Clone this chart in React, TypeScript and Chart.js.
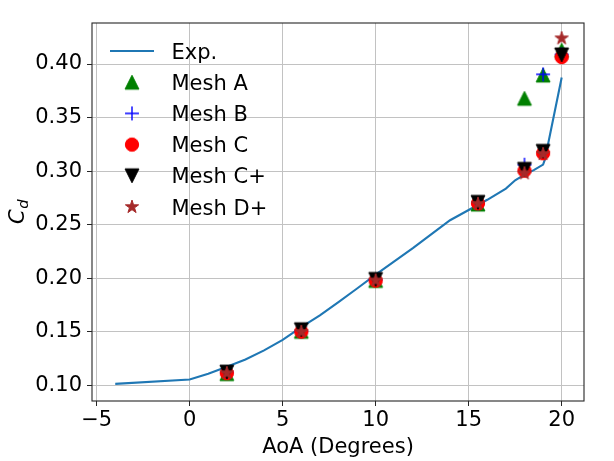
import React, { useEffect, useRef } from "react";
import { Chart, registerables } from "chart.js";

Chart.register(...registerables);

// ---- data ----
const expX = [-4, 0, 1, 2, 3, 4, 5, 6, 7, 8, 9, 10, 11, 12, 13, 14, 15, 16, 17, 17.5, 18, 18.5, 19, 19.1, 20];
const expY = [0.1015, 0.1055, 0.111, 0.1175, 0.1243, 0.1328, 0.1425, 0.1545, 0.1655, 0.1778, 0.1905, 0.2035, 0.2158, 0.2282, 0.2412, 0.2542, 0.2638, 0.2733, 0.2838, 0.2915, 0.2968, 0.301, 0.3062, 0.311, 0.3875];

const meshX = [2, 6, 10, 15.5, 18, 19, 20];
const meshA = [0.111, 0.1505, 0.198, 0.2693, 0.368, 0.3897, 0.4128];
const meshB = [0.112, 0.1505, 0.1985, 0.27, 0.306, 0.3904, 0.409];
const meshC = [0.1115, 0.1502, 0.1978, 0.27, 0.3004, 0.3167, 0.4065];
const meshCp = [0.1125, 0.152, 0.199, 0.2709, 0.3017, 0.3185, 0.4085];
const meshDp = [0.1115, 0.15, 0.198, 0.2695, 0.298, 0.316, 0.424];

const xTicks = [-5, 0, 5, 10, 15, 20];
const yTicks = [0.1, 0.15, 0.2, 0.25, 0.3, 0.35, 0.4];

const xLabel = "AoA (Degrees)";
const yLabelMain = "C";
const yLabelSub = "d";
const legendLabels = ["Exp.", "Mesh A", "Mesh B", "Mesh C", "Mesh C+", "Mesh D+"];

const FONT = "'DejaVu Sans', sans-serif";

function makeMarker(kind: string, color: string): HTMLCanvasElement {
  const S = 24;
  const c = 12;
  const r = 6.95;
  const cv = document.createElement("canvas");
  cv.width = S;
  cv.height = S;
  const g = cv.getContext("2d")!;
  g.fillStyle = color;
  g.strokeStyle = color;
  g.lineWidth = 1;
  g.lineJoin = "miter";
  g.beginPath();
  if (kind === "triUp") {
    g.moveTo(c, c - r);
    g.lineTo(c + r, c + r);
    g.lineTo(c - r, c + r);
    g.closePath();
    g.fill();
    g.stroke();
  } else if (kind === "triDown") {
    g.moveTo(c, c + r);
    g.lineTo(c + r, c - r);
    g.lineTo(c - r, c - r);
    g.closePath();
    g.fill();
    g.stroke();
  } else if (kind === "circle") {
    g.arc(c, c, r - 0.3, 0, Math.PI * 2);
    g.fill();
    g.stroke();
  } else if (kind === "plus") {
    g.lineWidth = 1.4;
    g.moveTo(c - r, c);
    g.lineTo(c + r, c);
    g.moveTo(c, c - r);
    g.lineTo(c, c + r);
    g.stroke();
  } else if (kind === "star") {
    for (let k = 0; k < 10; k++) {
      const a = -Math.PI / 2 + (k * Math.PI) / 5;
      const rr = k % 2 === 0 ? r : r * 0.381966;
      const px = c + rr * Math.cos(a);
      const py = c + rr * Math.sin(a);
      if (k === 0) g.moveTo(px, py);
      else g.lineTo(px, py);
    }
    g.closePath();
    g.fill();
    g.stroke();
  }
  return cv;
}

export default function App() {
  const ref = useRef<HTMLCanvasElement | null>(null);

  useEffect(() => {
    if (!ref.current) return;
    const markers = [
      makeMarker("triUp", "#008000"),
      makeMarker("plus", "#0000ff"),
      makeMarker("circle", "#ff0000"),
      makeMarker("triDown", "#000000"),
      makeMarker("star", "#a52a2a"),
    ];
    const meshSeries = [meshA, meshB, meshC, meshCp, meshDp];
    const lineColor = "#1f77b4";

    const datasets: any[] = [
      {
        label: legendLabels[0],
        data: expX.map((x, i) => ({ x, y: expY[i] })),
        showLine: true,
        borderColor: lineColor,
        borderWidth: 2.1,
        pointRadius: 0,
        tension: 0,
        fill: false,
        order: 10,
      },
    ];
    meshSeries.forEach((s, k) => {
      datasets.push({
        label: legendLabels[k + 1],
        data: meshX.map((x, i) => ({ x, y: s[i] })),
        showLine: false,
        pointStyle: markers[k],
        pointRadius: 7,
        order: 9 - k,
      });
    });

    const legendPlugin = {
      id: "mplLegend",
      afterDraw(chart: any) {
        const ctx = chart.ctx;
        const area = chart.chartArea;
        const x0 = area.left + 18;
        const y0 = area.top + 28;
        const step = 31.2;
        ctx.save();
        ctx.font = `21px ${FONT}`;
        ctx.fillStyle = "#000";
        ctx.textAlign = "left";
        ctx.textBaseline = "alphabetic";
        legendLabels.forEach((lab, i) => {
          const cy = y0 + i * step;
          if (i === 0) {
            ctx.strokeStyle = lineColor;
            ctx.lineWidth = 2.1;
            ctx.beginPath();
            ctx.moveTo(x0, cy);
            ctx.lineTo(x0 + 44, cy);
            ctx.stroke();
          } else {
            const m = markers[i - 1];
            ctx.drawImage(m, x0 + 22 - m.width / 2, cy - m.height / 2);
          }
          ctx.fillText(lab, x0 + 61.5, cy + 7.6);
        });
        ctx.restore();
      },
    };

    const framePlugin = {
      id: "mplFrame",
      afterDraw(chart: any) {
        const ctx = chart.ctx;
        const a = chart.chartArea;
        ctx.save();
        ctx.strokeStyle = "#262626";
        ctx.lineWidth = 1.1;
        ctx.strokeRect(a.left, a.top, a.right - a.left, a.bottom - a.top);
        // y axis title with subscript (mathtext-like)
        const cy = (a.top + a.bottom) / 2;
        ctx.translate(24, cy + 12);
        ctx.rotate(-Math.PI / 2);
        ctx.fillStyle = "#000";
        ctx.textBaseline = "alphabetic";
        ctx.textAlign = "left";
        ctx.font = `italic 21px ${FONT}`;
        ctx.fillText(yLabelMain, 0, 0);
        const w = ctx.measureText(yLabelMain).width;
        ctx.font = `italic 14.7px ${FONT}`;
        ctx.fillText(yLabelSub, w + 0.5, 4.2);
        ctx.restore();
      },
    };

    const chart = new Chart(ref.current, {
      type: "scatter",
      data: { datasets },
      options: {
        animation: false,
        responsive: false,
        events: [],
        layout: { padding: { left: 0, right: 30, top: 23, bottom: 0 } },
        plugins: {
          legend: { display: false },
          tooltip: { enabled: false },
        },
        scales: {
          x: {
            type: "linear",
            min: -5.25,
            max: 21.2,
            afterFit: (s: any) => {
              s.height = 60;
            },
            afterBuildTicks: (s: any) => {
              s.ticks = xTicks.map((v) => ({ value: v }));
            },
            border: { display: false },
            grid: {
              color: "#c2c2c2",
              lineWidth: 1,
              tickLength: 5,
              tickColor: "#262626",
              drawTicks: true,
            },
            ticks: {
              autoSkip: false,
              maxRotation: 0,
              padding: 2,
              color: "#000",
              font: { family: FONT, size: 21 },
              callback: (v: any) => String(v).replace("-", "\u2212"),
            },
            title: {
              display: true,
              text: xLabel,
              color: "#000",
              font: { family: FONT, size: 21 },
              padding: { top: 0, bottom: 1 },
            },
          },
          y: {
            type: "linear",
            min: 0.0855,
            max: 0.4383,
            afterFit: (s: any) => {
              s.width = 92;
            },
            afterBuildTicks: (s: any) => {
              s.ticks = yTicks.map((v) => ({ value: v }));
            },
            border: { display: false },
            grid: {
              color: "#c2c2c2",
              lineWidth: 1,
              tickLength: 5,
              tickColor: "#262626",
              drawTicks: true,
            },
            ticks: {
              autoSkip: false,
              padding: 5,
              color: "#000",
              font: { family: FONT, size: 21 },
              callback: (v: any) => Number(v).toFixed(2),
            },
          },
        },
      },
      plugins: [legendPlugin, framePlugin],
    } as any);

    return () => chart.destroy();
  }, []);

  return (
    <div style={{ position: "absolute", left: 0, top: 0, width: 614, height: 461, background: "#fff" }}>
      <canvas ref={ref} width={614} height={461} style={{ display: "block", width: 614, height: 461 }} />
    </div>
  );
}
